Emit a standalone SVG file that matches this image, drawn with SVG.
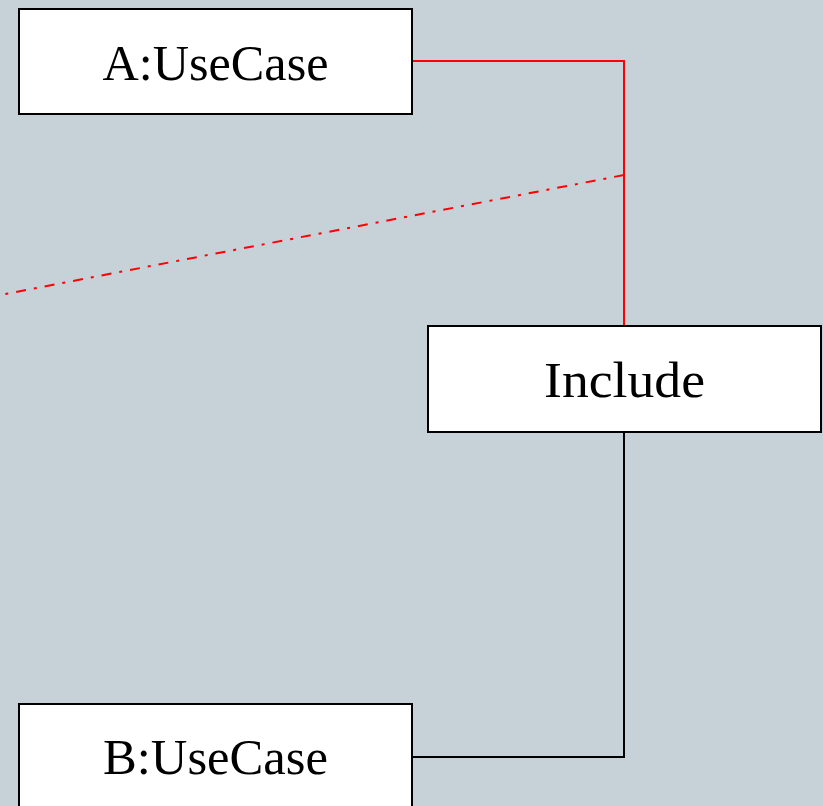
<svg xmlns="http://www.w3.org/2000/svg" width="823" height="806" viewBox="0 0 823 806">
<style>
.node rect{fill:#fff;stroke:#000;stroke-width:2}
.node text{font-family:"Liberation Serif","DejaVu Serif",serif;font-size:50px;fill:#000;text-anchor:middle}
.conn{fill:none;stroke-width:2}
</style>
<rect x="0" y="0" width="823" height="806" fill="#c6d1d8"/>
<g id="connectors">
<path class="conn" d="M413,61 H624 V326" stroke="#ff0000"/>
<path class="conn" d="M624,175 L-40,302.7" stroke="#ff0000" stroke-dasharray="10,8,3,8"/>
<path class="conn" d="M624,432 V757 H413" stroke="#000"/>
</g>
<g id="A" class="node">
<rect x="19" y="9" width="393" height="105"/>
<text x="215.5" y="80" textLength="226" lengthAdjust="spacingAndGlyphs">A:UseCase</text>
</g>
<g id="Include" class="node">
<rect x="428" y="326" width="393" height="106"/>
<text x="624.5" y="397" textLength="161" lengthAdjust="spacingAndGlyphs">Include</text>
</g>
<g id="B" class="node">
<rect x="19" y="704" width="393" height="110"/>
<text x="215.5" y="774" textLength="225" lengthAdjust="spacingAndGlyphs">B:UseCase</text>
</g>
</svg>
